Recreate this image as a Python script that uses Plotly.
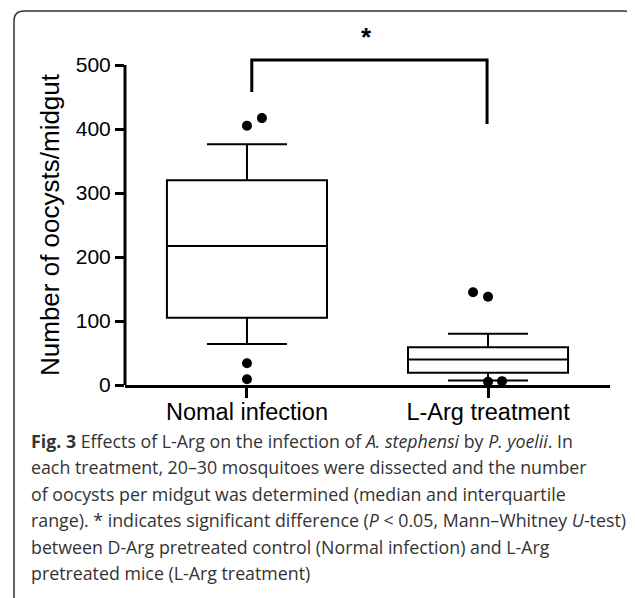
import plotly.graph_objects as go

# ---------------- data ----------------
categories = ["Nomal infection", "L-Arg treatment"]
q1 = [105, 19]
median = [217, 40]
q3 = [320, 59]
lower_fence = [64, 7]
upper_fence = [376, 80]

# outliers per group (value) with small horizontal jitter as drawn
outlier_group = [0, 0, 0, 0, 1, 1, 1, 1]
outlier_value = [405, 417, 34, 9, 145, 138, 5, 6]
outlier_jitter = [0.0, 0.062, 0.0, 0.0, -0.062, 0.0, 0.0, 0.058]

y_ticks = [0, 100, 200, 300, 400, 500]
y_title = "Number of oocysts/midgut"
bracket_y = [458, 508, 508, 408]

caption_lines = [
    "<b>Fig. 3</b> Effects of L-Arg on the infection of <i>A. stephensi</i> by <i>P. yoelii</i>. In",
    "each treatment, 20–30 mosquitoes were dissected and the number",
    "of oocysts per midgut was determined (median and interquartile",
    "range). * indicates significant difference (<i>P</i> &lt; 0.05, Mann–Whitney <i>U</i>-test)",
    "between D-Arg pretreated control (Normal infection) and L-Arg",
    "pretreated mice (L-Arg treatment)",
]

# ---------------- layout geometry ----------------
OFF = 8  # page body margin
W, H = 635 - OFF, 598 - OFF
ml, mr, mt, mb = 125 - OFF, 25, 49 - OFF, 213
pw = W - ml - mr
ph = H - mt - mb


def px_to_paper_x(px):
    return (px - OFF - ml) / pw


def px_to_paper_y(py):
    return (H - mb - (py - OFF)) / ph


fig = go.Figure()

xpos = list(range(len(categories)))
fig.add_trace(go.Box(
    x=xpos,
    q1=q1, median=median, q3=q3,
    lowerfence=lower_fence, upperfence=upper_fence,
    boxpoints=False,
    width=0.664,
    whiskerwidth=0.5,
    fillcolor="white",
    line=dict(color="black", width=2),
    showlegend=False,
    hoverinfo="skip",
))

fig.add_trace(go.Scatter(
    x=[g + j for g, j in zip(outlier_group, outlier_jitter)],
    y=outlier_value,
    mode="markers",
    marker=dict(color="black", size=10),
    cliponaxis=False,
    showlegend=False,
))

# significance bracket
fig.add_trace(go.Scatter(
    x=[0.02, 0.02, 0.996, 0.996],
    y=bracket_y,
    mode="lines",
    line=dict(color="black", width=3),
    showlegend=False,
))

# y axis line (0..500 only)
fig.add_shape(type="line", xref="paper", yref="y", x0=0, x1=0, y0=0, y1=500,
              line=dict(color="black", width=3))

# rounded frame
x0 = px_to_paper_x(14)
x1 = px_to_paper_x(634)
yt = px_to_paper_y(11)
yb = px_to_paper_y(600)
r_x = 10 / pw
r_y = 10 / ph
path = (f"M {x0},{yb} L {x0},{yt - r_y} Q {x0},{yt} {x0 + r_x},{yt} "
        f"L {x1 - r_x},{yt} Q {x1},{yt} {x1},{yt - r_y} L {x1},{yb}")
fig.add_shape(type="path", xref="paper", yref="paper", path=path,
              line=dict(color="#333333", width=1.5))

annotations = [
    dict(text="<b>*</b>", xref="x", yref="paper", x=0.494, y=px_to_paper_y(37),
         showarrow=False, yanchor="middle",
         font=dict(family="Arial", size=26, color="black")),
    dict(text=y_title, xref="paper", yref="paper", textangle=-90,
         x=px_to_paper_x(50), y=px_to_paper_y(225),
         xanchor="center", yanchor="middle", showarrow=False,
         font=dict(family="Arial", size=26, color="black")),
]
caption_y = [441, 467, 494, 520, 547, 573]
for line, py in zip(caption_lines, caption_y):
    annotations.append(dict(
        text=line, xref="paper", yref="paper",
        x=px_to_paper_x(29), y=px_to_paper_y(py),
        xanchor="left", yanchor="middle", showarrow=False,
        font=dict(family="Open Sans", size=17.8, color="#333333"),
    ))

fig.update_layout(
    width=W, height=H,
    margin=dict(l=ml, r=mr, t=mt, b=mb),
    paper_bgcolor="white", plot_bgcolor="white",
    font=dict(family="Arial", color="black"),
    annotations=annotations,
    xaxis=dict(
        range=[-0.506, 1.506],
        tickvals=xpos, ticktext=categories,
        showline=True, linecolor="black", linewidth=3,
        ticks="outside", ticklen=10, tickwidth=3, tickcolor="black",
        tickfont=dict(family="Arial", size=23.5, color="black"),
        ticklabelstandoff=-6,
        showgrid=False, zeroline=False,
    ),
    yaxis=dict(
        range=[0, 525],
        tickvals=y_ticks,
        showline=False,
        ticks="outside", ticklen=9, tickwidth=3, tickcolor="black",
        tickfont=dict(family="Arial", size=21, color="black"),
        showgrid=False, zeroline=False,
    ),
)

fig.write_html("out.html")
